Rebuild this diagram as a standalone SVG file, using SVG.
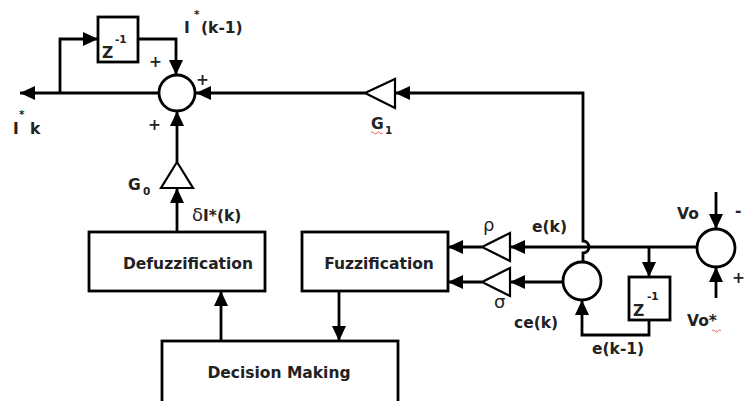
<svg xmlns="http://www.w3.org/2000/svg" width="744" height="401" viewBox="0 0 744 401">
<style>
.ln{fill:none;stroke:#000;stroke-width:2.8;marker-end:url(#ah)}
.bx{fill:#fff;stroke:#000;stroke-width:2.8}
.tr{fill:#fff;stroke:#000;stroke-width:2.2;stroke-linejoin:miter}
.t{font-family:"DejaVu Sans",Verdana,sans-serif;font-weight:bold;font-size:15.5px;fill:#222}
.s{font-family:"DejaVu Sans",Verdana,sans-serif;font-weight:bold;font-size:10.5px;fill:#222}
.g{font-family:"DejaVu Sans",sans-serif;font-size:18px;fill:#222}
.sq{fill:none;stroke:#e04040;stroke-width:0.8}
</style>
<defs>
<marker id="ah" viewBox="0 0 15 14" refX="15" refY="7" markerWidth="15" markerHeight="14" markerUnits="userSpaceOnUse" orient="auto">
<path d="M0,0 L15,7 L0,14 Z" fill="#000"/>
</marker>
</defs>
<rect width="744" height="401" fill="#fff"/>
<g id="connectors">
<path class="ln" d="M158,93 H20"/>
<path class="ln" d="M60,93 V39 H98"/>
<path class="ln" d="M138,39 H176 V75"/>
<path class="ln" d="M365,93 H196"/>
<path class="ln" d="M583,262 V253 A6,6 0 0 0 583,241 V93 H395"/>
<path class="ln" d="M697,247 H510"/>
<path class="ln" d="M482,247 H448"/>
<path class="ln" d="M563,282 H510"/>
<path class="ln" d="M482,282 H448"/>
<path class="ln" d="M649,247 V277"/>
<path class="ln" d="M649,320 V335 H582 V300"/>
<path class="ln" d="M716,192 V229"/>
<path class="ln" d="M716,298 V267"/>
<path class="ln" d="M339,291 V341"/>
<path class="ln" d="M221,341 V291"/>
<path class="ln" d="M177,232 V188"/>
<path class="ln" d="M177,162 V111"/>
</g>
<g id="sum1"><circle cx="177" cy="93" r="18" class="bx"/>
<text class="t" x="149" y="67">+</text><text class="t" x="196" y="85">+</text><text class="t" x="148" y="130">+</text></g>
<g id="z1"><rect x="98" y="17" width="40" height="45" class="bx"/>
<text class="t" x="102" y="58">Z</text><text class="s" x="115" y="43">-1</text></g>
<g id="lbl-ikm1"><text class="t" x="184" y="33">I</text><text class="s" x="194" y="18">*</text><text class="t" x="201" y="33">(k-1)</text></g>
<g id="lbl-ik"><text class="t" x="13" y="134">I</text><text class="s" x="19" y="118">*</text><text class="t" x="30" y="134">k</text></g>
<g id="g1"><polygon class="tr" points="365,93 395,79 395,108"/>
<text class="t" x="371" y="129">G</text><text class="s" x="385" y="134">1</text>
<path class="sq" d="M371,133 q1.5,-2 3,0 t3,0 t3,0 t3,0"/></g>
<g id="g0"><polygon class="tr" points="177,162 161,188 193,188"/>
<text class="t" x="128" y="190">G</text><text class="s" x="143" y="195">0</text>
<text class="t" x="192" y="221"><tspan class="g" style="font-weight:normal">δ</tspan>I*(k)</text></g>
<g id="defuzz"><rect x="89" y="232" width="176" height="59" class="bx"/>
<text class="t" x="188" y="269" text-anchor="middle">Defuzzification</text></g>
<g id="fuzz"><rect x="302" y="232" width="146" height="59" class="bx"/>
<text class="t" x="379" y="269" text-anchor="middle">Fuzzification</text></g>
<g id="decision"><rect x="162" y="341" width="236" height="80" class="bx"/>
<text class="t" x="279" y="378" text-anchor="middle">Decision Making</text></g>
<g id="rho"><polygon class="tr" points="482,247 510,233 510,261"/>
<text class="g" x="483" y="231">ρ</text></g>
<g id="sigma"><polygon class="tr" points="482,282 510,268 510,296"/>
<text class="g" x="494" y="308">σ</text></g>
<g id="lbl-ek"><text class="t" x="532" y="232">e(k)</text></g>
<g id="sum-ce"><circle cx="582" cy="281" r="19" class="bx"/>
<text class="t" x="514" y="328">ce(k)</text></g>
<g id="z2"><rect x="629" y="277" width="41" height="43" class="bx"/>
<text class="t" x="633" y="316">Z</text><text class="s" x="647" y="300">-1</text>
<text class="t" x="592" y="354">e(k-1)</text></g>
<g id="sum-vo"><circle cx="716" cy="248" r="19" class="bx"/>
<text class="t" x="677" y="219">Vo</text><text class="t" x="735" y="216">-</text>
<text class="t" x="732" y="283">+</text>
<text class="t" x="687" y="326">Vo*</text>
<path class="sq" d="M712,331 q1.5,-2 3,0 t3,0 t3,0"/></g>
</svg>
